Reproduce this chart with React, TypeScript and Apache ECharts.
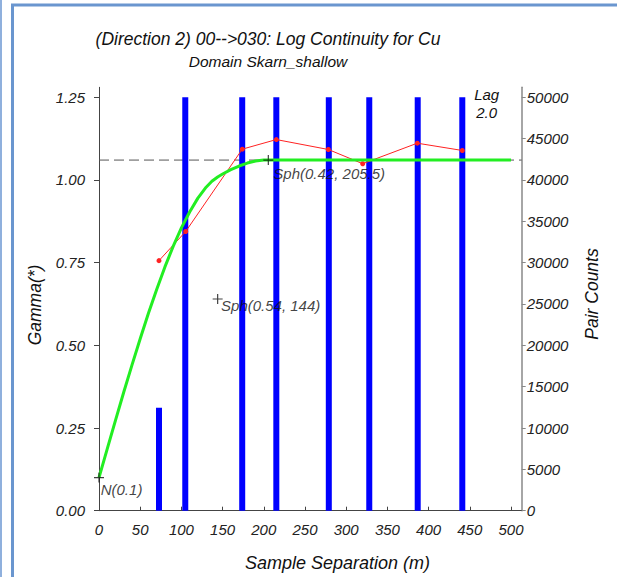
import React, { useEffect, useRef } from "react";
import * as echarts from "echarts";

// ---- data ----
const titleText = "(Direction 2) 00-->030: Log Continuity for Cu";
const subtitleText = "Domain Skarn_shallow";

// pair-count bars (lag centre, count)
const barLags = [72.8, 104.7, 173.8, 215.2, 278.9, 328, 386.8, 440.9];
const barCounts = [12450, 50000, 50000, 50000, 50000, 50000, 50000, 50000];

// experimental variogram points
const expLags = [72.8, 105.2, 173.9, 215.2, 278.3, 320, 386.3, 440.9];
const expGamma = [0.756, 0.844, 1.093, 1.122, 1.092, 1.049, 1.111, 1.089];

// fitted model curve
const modelLags = [0, 10, 20, 30, 40, 50, 60, 70, 80, 90, 100, 110, 120, 130, 137, 144, 150, 160, 170, 180, 190, 200, 205.5, 500];
const modelGamma = [0.1, 0.187, 0.273, 0.358, 0.44, 0.52, 0.597, 0.669, 0.737, 0.799, 0.855, 0.903, 0.945, 0.978, 0.996, 1.009, 1.018, 1.031, 1.042, 1.051, 1.057, 1.06, 1.06, 1.06];

// sill
const sill = 1.06;

// structure markers
const markerLags = [0, 144, 205.5];
const markerGamma = [0.1, 0.64, 1.06];
const markerLabels = ["N(0.1)", "Sph(0.54, 144)", "Sph(0.42, 205.5)"];

// ticks
const xTicks = [0, 50, 100, 150, 200, 250, 300, 350, 400, 450, 500];
const yTicks = [0, 0.25, 0.5, 0.75, 1.0, 1.25];
const y2Ticks = [0, 5000, 10000, 15000, 20000, 25000, 30000, 35000, 40000, 45000, 50000];

const FONT = "'Liberation Sans', Arial, sans-serif";
const TXT = "#222";

export default function App() {
  const ref = useRef<HTMLDivElement>(null);
  useEffect(() => {
    if (!ref.current) return;
    const chart = echarts.init(ref.current, undefined, { renderer: "svg" });
    const labelOffsets = [[-3.3, 12], [-1.6, 6.7], [0, 13]];
    const crossPath = "path://M4.4,0H5.6V4.4H10V5.6H5.6V10H4.4V5.6H0V4.4H4.4Z";
    const option: any = {
      animation: false,
      backgroundColor: "#fff",
      grid: {
        left: 99,
        right: 95.3,
        top: 87.3,
        bottom: 66.3,
        containLabel: false,
        outerBoundsMode: "none",
      },
      xAxis: {
        type: "value",
        min: 0,
        max: 513,
        axisLine: { show: true, onZero: false, lineStyle: { color: "#444", width: 1 } },
        axisTick: { show: true, inside: true, length: 4, lineStyle: { color: "#444" }, customValues: xTicks },
        axisLabel: {
          customValues: xTicks,
          margin: 11,
          fontSize: 15,
          fontStyle: "italic",
          fontFamily: FONT,
          color: TXT,
        },
        splitLine: { show: false },
      },
      yAxis: [
        {
          type: "value",
          min: 0,
          max: 1.28,
          axisLine: { show: true, lineStyle: { color: "#444", width: 1 } },
          axisTick: { show: true, inside: false, length: 5, lineStyle: { color: "#444" }, customValues: yTicks },
          axisLabel: {
            customValues: yTicks,
            margin: 14,
            fontSize: 15,
            fontStyle: "italic",
            fontFamily: FONT,
            color: TXT,
            formatter: (v: number) => v.toFixed(2),
          },
          splitLine: { show: false },
        },
        {
          type: "value",
          min: 0,
          max: 51200,
          position: "right",
          axisLine: { show: true, lineStyle: { color: "#888", width: 1.5 } },
          axisTick: { show: true, inside: false, length: 4, lineStyle: { color: "#888" }, customValues: y2Ticks },
          axisLabel: {
            customValues: y2Ticks,
            margin: 5,
            fontSize: 15,
            fontStyle: "italic",
            fontFamily: FONT,
            color: TXT,
            formatter: (v: number) => String(Math.round(v)),
          },
          splitLine: { show: false },
        },
      ],
      series: [
        {
          type: "line",
          name: "sill",
          data: [[0, sill], [513, sill]],
          symbol: "none",
          lineStyle: { color: "#555", width: 1, type: [10, 5] },
          z: 1,
          silent: true,
        },
        {
          type: "bar",
          name: "pairs",
          yAxisIndex: 1,
          data: barLags.map((l, i) => [l, barCounts[i]]),
          barWidth: 6,
          itemStyle: { color: "#0000ff" },
          z: 2,
        },
        {
          type: "line",
          name: "experimental",
          data: expLags.map((l, i) => [l, expGamma[i]]),
          symbol: "circle",
          symbolSize: 5,
          showSymbol: true,
          lineStyle: { color: "#ff2222", width: 1 },
          itemStyle: { color: "#ff2222" },
          z: 3,
        },
        {
          type: "line",
          name: "model",
          data: modelLags.map((l, i) => [l, modelGamma[i]]),
          symbol: "none",
          smooth: false,
          lineStyle: { color: "#22ee22", width: 3 },
          z: 4,
        },
        {
          type: "scatter",
          name: "markers",
          data: markerLags.map((l, i) => ({
            value: [l, markerGamma[i]],
            label: {
              show: true,
              formatter: markerLabels[i],
              position: "right",
              distance: 0,
              offset: labelOffsets[i],
              fontSize: 15,
              fontStyle: "italic",
              fontFamily: FONT,
              color: "#111",
            },
          })),
          symbol: crossPath,
          symbolSize: 10,
          itemStyle: { color: "#111" },
          z: 5,
        },
      ],
      graphic: [
        { type: "line", shape: { x1: 1, y1: 0, x2: 1, y2: 577 }, style: { stroke: "#8fb0dd", lineWidth: 2 } },
        { type: "line", shape: { x1: 12.5, y1: 5, x2: 12.5, y2: 577 }, style: { stroke: "#6a96cf", lineWidth: 3 } },
        { type: "line", shape: { x1: 11, y1: 5, x2: 617, y2: 5 }, style: { stroke: "#6a96cf", lineWidth: 3 } },
        {
          type: "text",
          x: 268,
          y: 39,
          style: { text: titleText, fontSize: 17.5, fontStyle: "italic", fontFamily: FONT, fill: "#111", align: "center", verticalAlign: "middle" },
        },
        {
          type: "text",
          x: 268,
          y: 61.5,
          style: { text: subtitleText, fontSize: 15.5, fontStyle: "italic", fontFamily: FONT, fill: "#111", align: "center", verticalAlign: "middle" },
        },
        {
          type: "text",
          x: 337.5,
          y: 563,
          style: { text: "Sample Separation (m)", fontSize: 18, fontStyle: "italic", fontFamily: FONT, fill: "#111", align: "center", verticalAlign: "middle" },
        },
        {
          type: "text",
          x: 35,
          y: 305,
          rotation: Math.PI / 2,
          style: { text: "Gamma(*)", fontSize: 17.5, fontStyle: "italic", fontFamily: FONT, fill: "#111", align: "center", verticalAlign: "middle" },
        },
        {
          type: "text",
          x: 591.5,
          y: 294,
          rotation: Math.PI / 2,
          style: { text: "Pair Counts", fontSize: 17.5, fontStyle: "italic", fontFamily: FONT, fill: "#111", align: "center", verticalAlign: "middle" },
        },
        {
          type: "text",
          x: 486.7,
          y: 94,
          style: { text: "Lag", fontSize: 15, fontStyle: "italic", fontFamily: FONT, fill: "#111", align: "center", verticalAlign: "middle" },
        },
        {
          type: "text",
          x: 486.7,
          y: 112,
          style: { text: "2.0", fontSize: 15, fontStyle: "italic", fontFamily: FONT, fill: "#111", align: "center", verticalAlign: "middle" },
        },
      ],
    };
    chart.setOption(option);
    return () => chart.dispose();
  }, []);
  return (
    <div
      ref={ref}
      style={{ position: "fixed", left: 0, top: 0, width: 617, height: 577, background: "#fff" }}
    />
  );
}
